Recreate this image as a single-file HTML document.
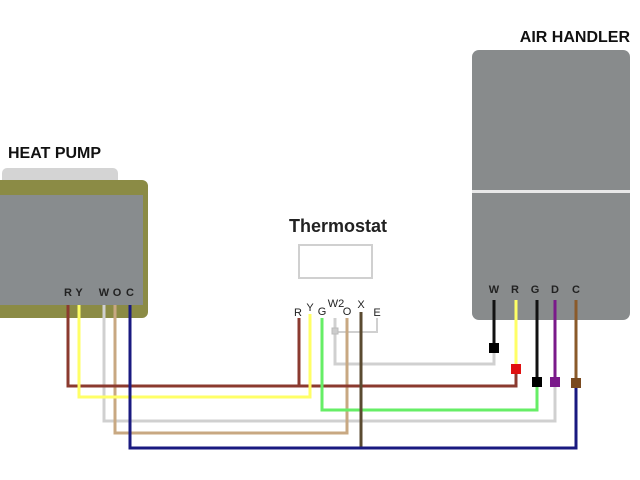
<!DOCTYPE html>
<html><head><meta charset="utf-8"><style>
html,body{margin:0;padding:0;background:#fff;}
svg{display:block}
text{font-family:"Liberation Sans",sans-serif;}
</style></head><body>
<svg width="640" height="480" viewBox="0 0 640 480" xmlns="http://www.w3.org/2000/svg">
<rect width="640" height="480" fill="#fff"/>
<!-- Heat pump -->
<text x="8" y="158" font-size="16" font-weight="bold" fill="#111">HEAT PUMP</text>
<rect x="2" y="168" width="116" height="22" rx="5" fill="#d4d4d4"/>
<rect x="-10" y="180" width="158" height="138" rx="6" fill="#8b8b45"/>
<rect x="-10" y="195" width="153" height="110" fill="#888c8e"/>
<g font-size="11" font-weight="bold" fill="#222" text-anchor="middle">
<text x="68" y="296">R</text><text x="79" y="296">Y</text>
<text x="104" y="296">W</text><text x="117" y="296">O</text><text x="130" y="296">C</text>
</g>
<!-- Air handler -->
<text x="630" y="42" font-size="16" font-weight="bold" fill="#111" text-anchor="end">AIR HANDLER</text>
<rect x="472" y="50" width="158" height="270" rx="7" fill="#888b8c"/>
<rect x="472" y="190" width="158" height="3" fill="#e8e8e8"/>
<g font-size="11" font-weight="bold" fill="#222" text-anchor="middle">
<text x="494" y="293">W</text><text x="515" y="293">R</text><text x="535" y="293">G</text>
<text x="555" y="293">D</text><text x="576" y="293">C</text>
</g>
<!-- Thermostat -->
<text x="338" y="232" font-size="18" font-weight="bold" fill="#222" text-anchor="middle">Thermostat</text>
<rect x="299" y="245" width="73" height="33" fill="#fff" stroke="#d0d0d0" stroke-width="2"/>
<g font-size="11" fill="#222" text-anchor="middle">
<text x="298" y="316">R</text><text x="310" y="311">Y</text><text x="322" y="315">G</text>
<text x="336" y="307">W2</text><text x="347" y="315">O</text><text x="361" y="308">X</text><text x="377" y="316">E</text>
</g>
<g fill="none" stroke-width="3">
<!-- grey W2 / E -->
<polyline points="335,318 335,364 494,364 494,348" stroke="#d0d0d0"/>
<polyline points="335,332 377,332 377,318" stroke="#d0d0d0" stroke-width="2"/>
<!-- HP W grey to D -->
<polyline points="104,305 104,421 555,421 555,383" stroke="#d0d0d0"/>
<!-- O tan -->
<polyline points="115,305 115,433 347,433 347,318" stroke="#c8a882"/>
<!-- R red -->
<polyline points="68,305 68,386 516,386 516,369" stroke="#8b3a2f"/>
<line x1="299" y1="318" x2="299" y2="386" stroke="#8b3a2f"/>
<!-- Y yellow -->
<polyline points="79,305 79,397 310,397 310,314" stroke="#ffff66"/>
<line x1="516" y1="300" x2="516" y2="369" stroke="#ffff66"/>
<!-- G green -->
<polyline points="322,318 322,410 537,410 537,382" stroke="#66ee66"/>
<line x1="537" y1="300" x2="537" y2="382" stroke="#111"/>
<!-- X -->
<line x1="361" y1="312" x2="361" y2="448" stroke="#5a4a30"/>
<!-- C navy -->
<polyline points="130,305 130,448 576,448 576,383" stroke="#1a1a80"/>
<line x1="576" y1="300" x2="576" y2="383" stroke="#8a5a2a"/>
<!-- AH W black, D purple -->
<line x1="494" y1="300" x2="494" y2="348" stroke="#111"/>
<line x1="555" y1="300" x2="555" y2="383" stroke="#7a1a8a"/>
</g>
<rect x="332" y="328" width="6" height="6" fill="#ccc" stroke="#bbb"/>
<rect x="489" y="343" width="10" height="10" fill="#000"/>
<rect x="511" y="364" width="10" height="10" fill="#e01010"/>
<rect x="532" y="377" width="10" height="10" fill="#000"/>
<rect x="550" y="377" width="10" height="10" fill="#7a1a8a"/>
<rect x="571" y="378" width="10" height="10" fill="#7a4a20"/>
</svg>
</body></html>
